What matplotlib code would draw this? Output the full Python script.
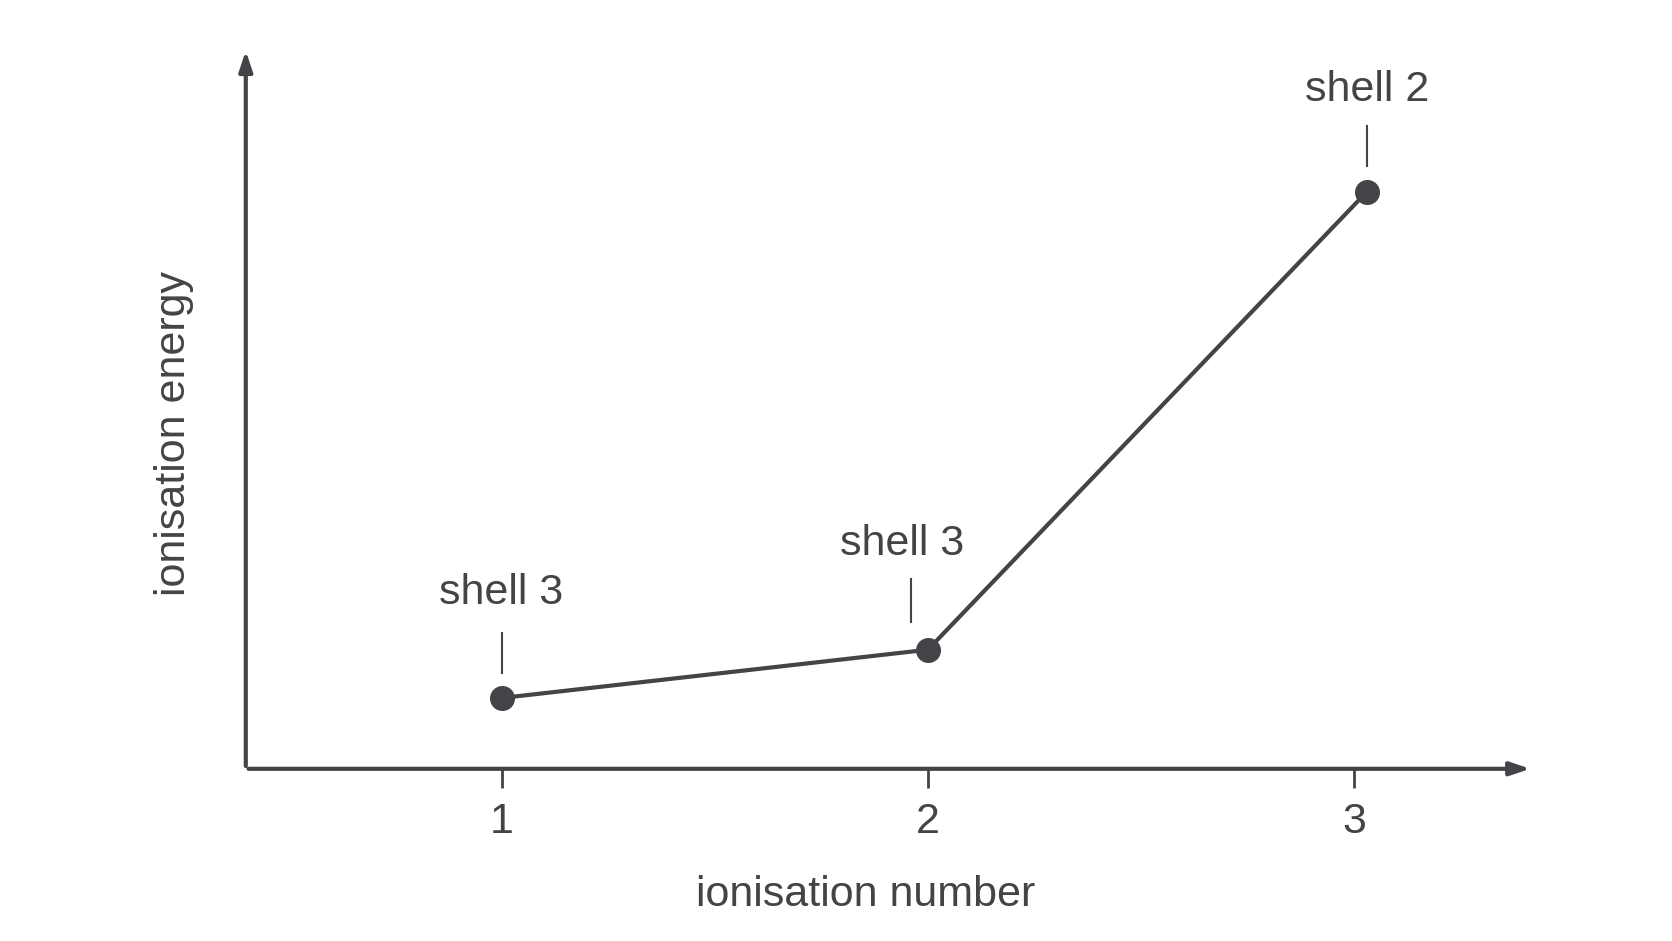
import matplotlib.pyplot as plt

plt.rcParams['font.family'] = ['Liberation Sans', 'DejaVu Sans']
col = '#444448'

ion_number = [1, 2, 3.03]
energy = [66, 111, 538]
labels = ['shell 3', 'shell 3', 'shell 2']
label_x = [1, 1.94, 3.03]
tick_x = [1, 1.96, 3.03]
label_y = [164, 210, 633]
tick_y0 = [89, 137, 562]
tick_y1 = [127, 177, 599]

fig = plt.figure(figsize=(16.72, 9.41), dpi=100)
ax = fig.add_axes([0.147, 0.183, 0.77, 0.766])
ax.set_xlim(0.4, 3.42)
ax.set_ylim(0, 672)
for s in ax.spines.values():
    s.set_visible(False)

# axes with arrows
ax.annotate('', xy=(1.0, 0), xytext=(0, 0), xycoords='axes fraction',
            arrowprops=dict(arrowstyle='-|>,head_length=1.2,head_width=0.4', color=col, lw=3))
ax.annotate('', xy=(0, 1.0), xytext=(0, 0), xycoords='axes fraction',
            arrowprops=dict(arrowstyle='-|>,head_length=1.2,head_width=0.4', color=col, lw=3))

ax.plot(ion_number, energy, color=col, lw=3, marker='o', markersize=17, zorder=3)

for lx, tx, ly, y0, y1, t in zip(label_x, tick_x, label_y, tick_y0, tick_y1, labels):
    ax.text(lx, ly, t, ha='center', va='center', fontsize=31, color=col)
    ax.plot([tx, tx], [y0, y1], color=col, lw=1.5)

ax.set_xticks([1, 2, 3])
ax.set_xticklabels(['1', '2', '3'])
ax.set_yticks([])
ax.tick_params(axis='x', length=14, width=2, color=col, labelsize=31,
               labelcolor=col, pad=10, direction='out')

fig.text(0.518, 0.049, 'ionisation number', ha='center', va='center', fontsize=31, color=col)
fig.text(0.104, 0.539, 'ionisation energy', ha='center', va='center', fontsize=31,
         color=col, rotation=90)

fig.savefig('out.png', dpi=100, facecolor='white')
